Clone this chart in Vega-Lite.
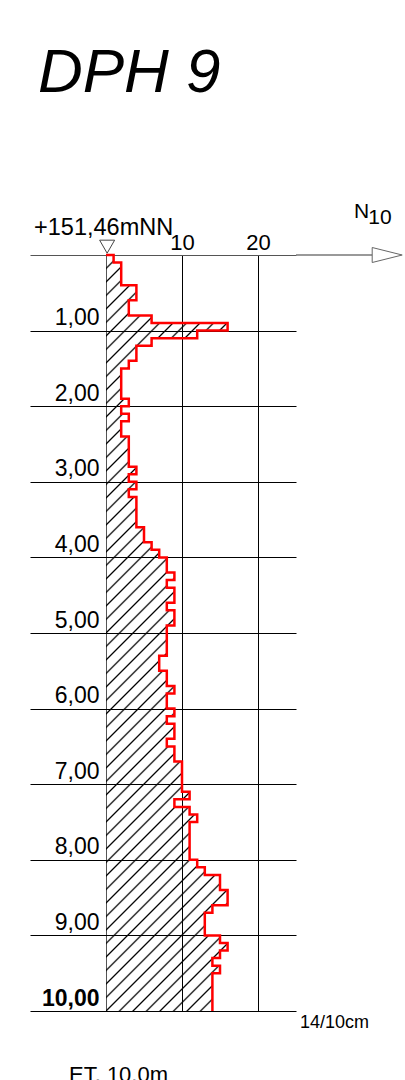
{
  "$schema": "https://vega.github.io/schema/vega-lite/v6.json",
  "width": 266,
  "height": 756,
  "autosize": "none",
  "padding": {"left": 30, "top": 255, "right": 109, "bottom": 69},
  "config": {"view": {"stroke": null}, "font": "Liberation Sans"},
  "resolve": {"axis": {"x": "independent", "y": "independent"}},
  "datasets": {
    "profile": [
      {"depth": 0, "n": 0}, {"depth": 0, "n": 1}, {"depth": 0.1, "n": 2}, {"depth": 0.4, "n": 4},
      {"depth": 0.6, "n": 3}, {"depth": 0.8, "n": 6}, {"depth": 0.9, "n": 16}, {"depth": 1.0, "n": 12},
      {"depth": 1.1, "n": 6}, {"depth": 1.2, "n": 4}, {"depth": 1.4, "n": 3}, {"depth": 1.5, "n": 2},
      {"depth": 1.9, "n": 3}, {"depth": 2.0, "n": 2}, {"depth": 2.1, "n": 3}, {"depth": 2.2, "n": 2},
      {"depth": 2.4, "n": 3}, {"depth": 2.8, "n": 4}, {"depth": 2.9, "n": 3}, {"depth": 3.0, "n": 4},
      {"depth": 3.1, "n": 3}, {"depth": 3.2, "n": 4}, {"depth": 3.6, "n": 5}, {"depth": 3.8, "n": 6},
      {"depth": 3.9, "n": 7}, {"depth": 4.0, "n": 8}, {"depth": 4.2, "n": 9}, {"depth": 4.3, "n": 8},
      {"depth": 4.4, "n": 9}, {"depth": 4.6, "n": 8}, {"depth": 4.7, "n": 9}, {"depth": 4.9, "n": 8},
      {"depth": 5.3, "n": 7}, {"depth": 5.5, "n": 8}, {"depth": 5.7, "n": 9}, {"depth": 5.8, "n": 8},
      {"depth": 6.0, "n": 9}, {"depth": 6.1, "n": 8}, {"depth": 6.2, "n": 9}, {"depth": 6.4, "n": 8},
      {"depth": 6.5, "n": 9}, {"depth": 6.7, "n": 10}, {"depth": 7.1, "n": 11}, {"depth": 7.2, "n": 9},
      {"depth": 7.3, "n": 11}, {"depth": 7.4, "n": 12}, {"depth": 7.5, "n": 11}, {"depth": 8.0, "n": 12},
      {"depth": 8.1, "n": 13}, {"depth": 8.2, "n": 15}, {"depth": 8.4, "n": 16}, {"depth": 8.6, "n": 14},
      {"depth": 8.7, "n": 13}, {"depth": 9.0, "n": 15}, {"depth": 9.1, "n": 16}, {"depth": 9.2, "n": 15},
      {"depth": 9.3, "n": 14}, {"depth": 9.4, "n": 15}, {"depth": 9.5, "n": 14}, {"depth": 10.0, "n": 14}
    ]
  },
  "layer": [
    {
      "data": {"name": "profile"},
      "mark": {
        "type": "area",
        "orient": "horizontal",
        "interpolate": "step-before",
        "fillOpacity": 1,
        "fill": {
          "gradient": "linear",
          "x1": 0, "y1": 0, "x2": 0.182, "y2": 1.1316,
          "stops": [
            {"offset": 0, "color": "#000"}, {"offset": 0.002, "color": "transparent"},
            {"offset": 0.0134, "color": "transparent"}, {"offset": 0.0154, "color": "#000"}, {"offset": 0.0174, "color": "transparent"},
            {"offset": 0.0288, "color": "transparent"}, {"offset": 0.0308, "color": "#000"}, {"offset": 0.0328, "color": "transparent"},
            {"offset": 0.0442, "color": "transparent"}, {"offset": 0.0462, "color": "#000"}, {"offset": 0.0482, "color": "transparent"},
            {"offset": 0.0595, "color": "transparent"}, {"offset": 0.0615, "color": "#000"}, {"offset": 0.0635, "color": "transparent"},
            {"offset": 0.0749, "color": "transparent"}, {"offset": 0.0769, "color": "#000"}, {"offset": 0.0789, "color": "transparent"},
            {"offset": 0.0903, "color": "transparent"}, {"offset": 0.0923, "color": "#000"}, {"offset": 0.0943, "color": "transparent"},
            {"offset": 0.1057, "color": "transparent"}, {"offset": 0.1077, "color": "#000"}, {"offset": 0.1097, "color": "transparent"},
            {"offset": 0.1211, "color": "transparent"}, {"offset": 0.1231, "color": "#000"}, {"offset": 0.1251, "color": "transparent"},
            {"offset": 0.1365, "color": "transparent"}, {"offset": 0.1385, "color": "#000"}, {"offset": 0.1405, "color": "transparent"},
            {"offset": 0.1518, "color": "transparent"}, {"offset": 0.1538, "color": "#000"}, {"offset": 0.1558, "color": "transparent"},
            {"offset": 0.1672, "color": "transparent"}, {"offset": 0.1692, "color": "#000"}, {"offset": 0.1712, "color": "transparent"},
            {"offset": 0.1826, "color": "transparent"}, {"offset": 0.1846, "color": "#000"}, {"offset": 0.1866, "color": "transparent"},
            {"offset": 0.198, "color": "transparent"}, {"offset": 0.2, "color": "#000"}, {"offset": 0.202, "color": "transparent"},
            {"offset": 0.2134, "color": "transparent"}, {"offset": 0.2154, "color": "#000"}, {"offset": 0.2174, "color": "transparent"},
            {"offset": 0.2288, "color": "transparent"}, {"offset": 0.2308, "color": "#000"}, {"offset": 0.2328, "color": "transparent"},
            {"offset": 0.2441, "color": "transparent"}, {"offset": 0.2461, "color": "#000"}, {"offset": 0.2481, "color": "transparent"},
            {"offset": 0.2595, "color": "transparent"}, {"offset": 0.2615, "color": "#000"}, {"offset": 0.2635, "color": "transparent"},
            {"offset": 0.2749, "color": "transparent"}, {"offset": 0.2769, "color": "#000"}, {"offset": 0.2789, "color": "transparent"},
            {"offset": 0.2903, "color": "transparent"}, {"offset": 0.2923, "color": "#000"}, {"offset": 0.2943, "color": "transparent"},
            {"offset": 0.3057, "color": "transparent"}, {"offset": 0.3077, "color": "#000"}, {"offset": 0.3097, "color": "transparent"},
            {"offset": 0.321, "color": "transparent"}, {"offset": 0.323, "color": "#000"}, {"offset": 0.325, "color": "transparent"},
            {"offset": 0.3364, "color": "transparent"}, {"offset": 0.3384, "color": "#000"}, {"offset": 0.3404, "color": "transparent"},
            {"offset": 0.3518, "color": "transparent"}, {"offset": 0.3538, "color": "#000"}, {"offset": 0.3558, "color": "transparent"},
            {"offset": 0.3672, "color": "transparent"}, {"offset": 0.3692, "color": "#000"}, {"offset": 0.3712, "color": "transparent"},
            {"offset": 0.3826, "color": "transparent"}, {"offset": 0.3846, "color": "#000"}, {"offset": 0.3866, "color": "transparent"},
            {"offset": 0.398, "color": "transparent"}, {"offset": 0.4, "color": "#000"}, {"offset": 0.402, "color": "transparent"},
            {"offset": 0.4133, "color": "transparent"}, {"offset": 0.4153, "color": "#000"}, {"offset": 0.4173, "color": "transparent"},
            {"offset": 0.4287, "color": "transparent"}, {"offset": 0.4307, "color": "#000"}, {"offset": 0.4327, "color": "transparent"},
            {"offset": 0.4441, "color": "transparent"}, {"offset": 0.4461, "color": "#000"}, {"offset": 0.4481, "color": "transparent"},
            {"offset": 0.4595, "color": "transparent"}, {"offset": 0.4615, "color": "#000"}, {"offset": 0.4635, "color": "transparent"},
            {"offset": 0.4749, "color": "transparent"}, {"offset": 0.4769, "color": "#000"}, {"offset": 0.4789, "color": "transparent"},
            {"offset": 0.4903, "color": "transparent"}, {"offset": 0.4923, "color": "#000"}, {"offset": 0.4943, "color": "transparent"},
            {"offset": 0.5056, "color": "transparent"}, {"offset": 0.5076, "color": "#000"}, {"offset": 0.5096, "color": "transparent"},
            {"offset": 0.521, "color": "transparent"}, {"offset": 0.523, "color": "#000"}, {"offset": 0.525, "color": "transparent"},
            {"offset": 0.5364, "color": "transparent"}, {"offset": 0.5384, "color": "#000"}, {"offset": 0.5404, "color": "transparent"},
            {"offset": 0.5518, "color": "transparent"}, {"offset": 0.5538, "color": "#000"}, {"offset": 0.5558, "color": "transparent"},
            {"offset": 0.5672, "color": "transparent"}, {"offset": 0.5692, "color": "#000"}, {"offset": 0.5712, "color": "transparent"},
            {"offset": 0.5826, "color": "transparent"}, {"offset": 0.5846, "color": "#000"}, {"offset": 0.5866, "color": "transparent"},
            {"offset": 0.5979, "color": "transparent"}, {"offset": 0.5999, "color": "#000"}, {"offset": 0.6019, "color": "transparent"},
            {"offset": 0.6133, "color": "transparent"}, {"offset": 0.6153, "color": "#000"}, {"offset": 0.6173, "color": "transparent"},
            {"offset": 0.6287, "color": "transparent"}, {"offset": 0.6307, "color": "#000"}, {"offset": 0.6327, "color": "transparent"},
            {"offset": 0.6441, "color": "transparent"}, {"offset": 0.6461, "color": "#000"}, {"offset": 0.6481, "color": "transparent"},
            {"offset": 0.6595, "color": "transparent"}, {"offset": 0.6615, "color": "#000"}, {"offset": 0.6635, "color": "transparent"},
            {"offset": 0.6749, "color": "transparent"}, {"offset": 0.6769, "color": "#000"}, {"offset": 0.6789, "color": "transparent"},
            {"offset": 0.6902, "color": "transparent"}, {"offset": 0.6922, "color": "#000"}, {"offset": 0.6942, "color": "transparent"},
            {"offset": 0.7056, "color": "transparent"}, {"offset": 0.7076, "color": "#000"}, {"offset": 0.7096, "color": "transparent"},
            {"offset": 0.721, "color": "transparent"}, {"offset": 0.723, "color": "#000"}, {"offset": 0.725, "color": "transparent"},
            {"offset": 0.7364, "color": "transparent"}, {"offset": 0.7384, "color": "#000"}, {"offset": 0.7404, "color": "transparent"},
            {"offset": 0.7518, "color": "transparent"}, {"offset": 0.7538, "color": "#000"}, {"offset": 0.7558, "color": "transparent"},
            {"offset": 0.7672, "color": "transparent"}, {"offset": 0.7692, "color": "#000"}, {"offset": 0.7712, "color": "transparent"},
            {"offset": 0.7825, "color": "transparent"}, {"offset": 0.7845, "color": "#000"}, {"offset": 0.7865, "color": "transparent"},
            {"offset": 0.7979, "color": "transparent"}, {"offset": 0.7999, "color": "#000"}, {"offset": 0.8019, "color": "transparent"},
            {"offset": 0.8133, "color": "transparent"}, {"offset": 0.8153, "color": "#000"}, {"offset": 0.8173, "color": "transparent"},
            {"offset": 0.8287, "color": "transparent"}, {"offset": 0.8307, "color": "#000"}, {"offset": 0.8327, "color": "transparent"},
            {"offset": 0.8441, "color": "transparent"}, {"offset": 0.8461, "color": "#000"}, {"offset": 0.8481, "color": "transparent"},
            {"offset": 0.8595, "color": "transparent"}, {"offset": 0.8615, "color": "#000"}, {"offset": 0.8635, "color": "transparent"},
            {"offset": 0.8748, "color": "transparent"}, {"offset": 0.8768, "color": "#000"}, {"offset": 0.8788, "color": "transparent"},
            {"offset": 0.8902, "color": "transparent"}, {"offset": 0.8922, "color": "#000"}, {"offset": 0.8942, "color": "transparent"},
            {"offset": 0.9056, "color": "transparent"}, {"offset": 0.9076, "color": "#000"}, {"offset": 0.9096, "color": "transparent"},
            {"offset": 0.921, "color": "transparent"}, {"offset": 0.923, "color": "#000"}, {"offset": 0.925, "color": "transparent"},
            {"offset": 0.9364, "color": "transparent"}, {"offset": 0.9384, "color": "#000"}, {"offset": 0.9404, "color": "transparent"},
            {"offset": 0.9518, "color": "transparent"}, {"offset": 0.9538, "color": "#000"}, {"offset": 0.9558, "color": "transparent"},
            {"offset": 0.9671, "color": "transparent"}, {"offset": 0.9691, "color": "#000"}, {"offset": 0.9711, "color": "transparent"},
            {"offset": 0.9825, "color": "transparent"}, {"offset": 0.9845, "color": "#000"}, {"offset": 0.9865, "color": "transparent"},
            {"offset": 0.9979, "color": "transparent"}, {"offset": 0.9999, "color": "#000"}, {"offset": 1, "color": "transparent"}
          ]
        }
      },
      "encoding": {
        "y": {
          "field": "depth", "type": "quantitative",
          "scale": {"domain": [0, 10], "nice": false, "zero": false, "reverse": true},
          "axis": {
            "values": [0, 1, 2, 3, 4, 5, 6, 7, 8, 9, 10],
            "grid": true,
            "gridColor": {"condition": {"test": "datum.value === 0", "value": "#555"}, "value": "#000"},
            "gridWidth": 1,
            "gridOpacity": 1,
            "domain": false,
            "ticks": false,
            "title": null,
            "labelExpr": "datum.value === 0 ? '' : replace(format(datum.value, '.2f'), '.', ',')",
            "labelPadding": -69,
            "labelAlign": "right",
            "labelBaseline": "alphabetic",
            "labelOffset": -6,
            "labelFont": "Liberation Sans",
            "labelFontSize": 23,
            "labelColor": "#000",
            "labelFontWeight": {"condition": {"test": "datum.value === 10", "value": "bold"}, "value": "normal"},
            "labelOverlap": false,
            "labelBound": false,
            "labelFlush": false
          }
        },
        "x": {
          "field": "n", "type": "quantitative", "stack": null,
          "scale": {"domain": [-10, 25], "nice": false, "zero": false},
          "axis": {
            "orient": "top",
            "values": [0, 10, 20],
            "grid": true,
            "gridColor": {"condition": {"test": "datum.value === 0", "value": "#555"}, "value": "#000"},
            "gridWidth": 1,
            "gridOpacity": 1,
            "domain": false,
            "ticks": false,
            "title": null,
            "labelExpr": "datum.value === 0 ? '' : datum.label",
            "labelPadding": 6,
            "labelBaseline": "alphabetic",
            "labelFont": "Liberation Sans",
            "labelFontSize": 22,
            "labelColor": "#000",
            "labelOverlap": false,
            "labelBound": false,
            "labelFlush": false
          }
        },
        "x2": {"datum": 0}
      }
    },
    {
      "data": {"name": "profile"},
      "mark": {"type": "line", "interpolate": "step-before", "color": "#ff0000", "strokeWidth": 2.5, "strokeJoin": "miter"},
      "encoding": {
        "y": {"field": "depth", "type": "quantitative", "scale": {"domain": [0, 10], "nice": false, "zero": false, "reverse": true}, "axis": null},
        "x": {"field": "n", "type": "quantitative", "scale": {"domain": [-10, 25], "nice": false, "zero": false}, "axis": null},
        "order": {"field": "depth", "type": "quantitative"}
      }
    },
    {
      "data": {"values": [{}]},
      "mark": {"type": "rule", "color": "#777", "strokeWidth": 1.5},
      "encoding": {
        "x": {"datum": 25, "type": "quantitative", "scale": {"domain": [-10, 25], "nice": false, "zero": false}, "axis": null},
        "x2": {"datum": 35.1},
        "y": {"datum": 0, "type": "quantitative", "scale": {"domain": [0, 10], "nice": false, "zero": false, "reverse": true}, "axis": null}
      }
    },
    {
      "data": {"values": [{}]},
      "mark": {"type": "point", "shape": "M-1,-0.5L1,0L-1,0.5Z", "size": 900, "filled": true, "fill": "#fff", "stroke": "#666", "strokeWidth": 1, "opacity": 1},
      "encoding": {
        "x": {"datum": 37.0, "type": "quantitative", "scale": {"domain": [-10, 25], "nice": false, "zero": false}, "axis": null},
        "y": {"datum": 0, "type": "quantitative", "scale": {"domain": [0, 10], "nice": false, "zero": false, "reverse": true}, "axis": null}
      }
    },
    {
      "data": {"values": [{}]},
      "mark": {"type": "point", "shape": "M-1,-0.87L1,-0.87L0,0.87Z", "size": 225, "filled": true, "fill": "#fff", "stroke": "#444", "strokeWidth": 1, "opacity": 1},
      "encoding": {
        "x": {"datum": 0.15, "type": "quantitative", "scale": {"domain": [-10, 25], "nice": false, "zero": false}, "axis": null},
        "y": {"datum": -0.11, "type": "quantitative", "scale": {"domain": [0, 10], "nice": false, "zero": false, "reverse": true}, "axis": null}
      }
    },
    {
      "data": {"values": [{}]},
      "mark": {"type": "text", "text": "DPH 9", "font": "Liberation Sans", "fontSize": 62, "fontStyle": "italic", "align": "left", "baseline": "alphabetic", "color": "#000"},
      "encoding": {
        "x": {"datum": -8.95, "type": "quantitative", "scale": {"domain": [-10, 25], "nice": false, "zero": false}, "axis": null},
        "y": {"datum": -2.156, "type": "quantitative", "scale": {"domain": [0, 10], "nice": false, "zero": false, "reverse": true}, "axis": null}
      }
    },
    {
      "data": {"values": [{}]},
      "mark": {"type": "text", "text": "+151,46mNN", "font": "Liberation Sans", "fontSize": 23.5, "align": "left", "baseline": "alphabetic", "color": "#000"},
      "encoding": {
        "x": {"datum": -9.47, "type": "quantitative", "scale": {"domain": [-10, 25], "nice": false, "zero": false}, "axis": null},
        "y": {"datum": -0.271, "type": "quantitative", "scale": {"domain": [0, 10], "nice": false, "zero": false, "reverse": true}, "axis": null}
      }
    },
    {
      "data": {"values": [{}]},
      "mark": {"type": "text", "text": "N", "font": "Liberation Sans", "fontSize": 21, "align": "left", "baseline": "alphabetic", "color": "#000"},
      "encoding": {
        "x": {"datum": 32.63, "type": "quantitative", "scale": {"domain": [-10, 25], "nice": false, "zero": false}, "axis": null},
        "y": {"datum": -0.489, "type": "quantitative", "scale": {"domain": [0, 10], "nice": false, "zero": false, "reverse": true}, "axis": null}
      }
    },
    {
      "data": {"values": [{}]},
      "mark": {"type": "text", "text": "10", "font": "Liberation Sans", "fontSize": 21, "align": "left", "baseline": "alphabetic", "color": "#000"},
      "encoding": {
        "x": {"datum": 34.5, "type": "quantitative", "scale": {"domain": [-10, 25], "nice": false, "zero": false}, "axis": null},
        "y": {"datum": -0.41, "type": "quantitative", "scale": {"domain": [0, 10], "nice": false, "zero": false, "reverse": true}, "axis": null}
      }
    },
    {
      "data": {"values": [{}]},
      "mark": {"type": "text", "text": "14/10cm", "font": "Liberation Sans", "fontSize": 18, "align": "left", "baseline": "alphabetic", "color": "#000"},
      "encoding": {
        "x": {"datum": 25.53, "type": "quantitative", "scale": {"domain": [-10, 25], "nice": false, "zero": false}, "axis": null},
        "y": {"datum": 10.23, "type": "quantitative", "scale": {"domain": [0, 10], "nice": false, "zero": false, "reverse": true}, "axis": null}
      }
    },
    {
      "data": {"values": [{}]},
      "mark": {"type": "text", "text": "ET. 10.0m", "font": "Liberation Sans", "fontSize": 22, "align": "left", "baseline": "alphabetic", "color": "#000"},
      "encoding": {
        "x": {"datum": -4.87, "type": "quantitative", "scale": {"domain": [-10, 25], "nice": false, "zero": false}, "axis": null},
        "y": {"datum": 10.939, "type": "quantitative", "scale": {"domain": [0, 10], "nice": false, "zero": false, "reverse": true}, "axis": null}
      }
    }
  ]
}
